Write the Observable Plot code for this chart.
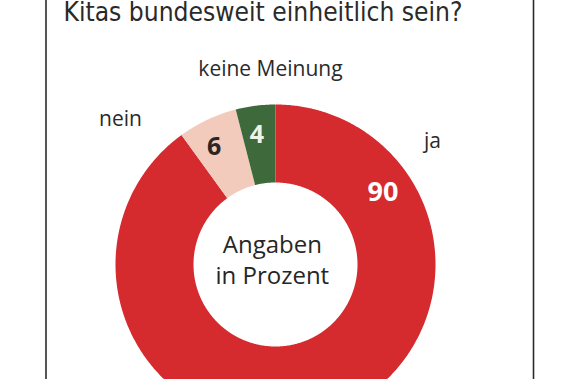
<!DOCTYPE html>
<html>
<head>
<meta charset="utf-8">
<script src="https://cdn.jsdelivr.net/npm/d3@7"></script>
<script src="https://cdn.jsdelivr.net/npm/@observablehq/plot@0.6"></script>
<style>
  html, body { margin: 0; padding: 0; background: #fff; }
  svg { display: block; }
</style>
</head>
<body>
<div id="chart"></div>
<script>
// Data
const categories = ["ja", "nein", "keine Meinung"];
const values = [90, 6, 4];
const colors = ["#d52a2e", "#f2cbbc", "#3e6a3b"];
const valueLabelColors = ["#ffffff", "#2b2523", "#eef3ea"];
const titleText = "Kitas bundesweit einheitlich sein?";
const centerLines = ["Angaben", "in Prozent"];

// Layout (not data)
const innerRatio = 82 / 160;
const font = "'Open Sans', 'DejaVu Sans', sans-serif";
const condFont = "'DejaVu Sans Condensed', 'Liberation Sans Narrow', sans-serif";

// Build slice polygons from values (angle clockwise from 12 o'clock)
const total = d3.sum(values);
let acc = 0;
const slices = values.map((v, i) => {
  const a0 = acc / total * 2 * Math.PI;
  acc += v;
  const a1 = acc / total * 2 * Math.PI;
  return {i, cat: categories[i], value: v, a0, a1};
});
const polyPts = [];
for (const s of slices) {
  const n = Math.max(2, Math.ceil((s.a1 - s.a0) / (Math.PI / 360)));
  for (let k = 0; k <= n; k++) {
    const a = s.a0 + (s.a1 - s.a0) * k / n;
    polyPts.push({cat: s.cat, x: Math.sin(a), y: Math.cos(a)});
  }
  for (let k = n; k >= 0; k--) {
    const a = s.a0 + (s.a1 - s.a0) * k / n;
    polyPts.push({cat: s.cat, x: innerRatio * Math.sin(a), y: innerRatio * Math.cos(a)});
  }
}

// value label placement (degrees clockwise from top, radius fraction), font sizes
const valueLabelPos = [
  {angle: 56, r: 0.81, size: 27},
  {angle: -27.7, r: 0.826, size: 25},
  {angle: -8.1, r: 0.82, size: 25}
];
const valueLabels = slices.map((s, i) => {
  const a = valueLabelPos[i].angle * Math.PI / 180;
  const r = valueLabelPos[i].r;
  return {text: String(s.value), x: r * Math.sin(a), y: r * Math.cos(a), color: valueLabelColors[i], size: valueLabelPos[i].size};
});

// category label positions (data space)
const catLabelPos = [
  {x: (432 - 275) / 160, y: (264 - 147) / 160},
  {x: (120 - 275) / 160, y: (264 - 125) / 160},
  {x: (270 - 275) / 160, y: (264 - 75) / 160}
];
const catLabels = categories.map((c, i) => ({text: c, ...catLabelPos[i]}));

const framePos = [(45.5 - 275) / 160, (533 - 275) / 160];

const chart = Plot.plot({
  width: 576,
  height: 379,
  margin: 0,
  x: {domain: [-1, 1], range: [115, 435], axis: null},
  y: {domain: [-1, 1], range: [424, 104], axis: null},
  color: {domain: categories, range: colors},
  style: {background: "#fff", fontFamily: font},
  marks: [
    Plot.ruleX(framePos, {stroke: "#2b2b2b", strokeWidth: 1.6}),
    Plot.line(polyPts, {x: "x", y: "y", z: "cat", fill: "cat", stroke: "none", curve: "linear-closed"}),
    Plot.text(valueLabels.slice(0, 1), {x: "x", y: "y", text: "text", fill: d => d.color, fontSize: 27, fontWeight: "bold", fontFamily: font}),
    Plot.text(valueLabels.slice(1), {x: "x", y: "y", text: "text", fill: d => d.color, fontSize: 25, fontWeight: "bold", fontFamily: font}),
    Plot.text(catLabels, {x: "x", y: "y", text: "text", fill: "#2a2a2a", fontSize: 21, lineAnchor: "bottom", fontFamily: font}),
    Plot.text([centerLines.join("\n")], {x: [-0.02], y: [0.035], text: d => d, fill: "#262626", fontSize: 24, lineHeight: 1.3, lineAnchor: "middle", fontFamily: font}),
    Plot.text([titleText], {className: "title-mark", frameAnchor: "top-left", dx: 63, dy: 20, textAnchor: "start", lineAnchor: "bottom", fill: "#2a2a2a", fontSize: 27, fontFamily: condFont})
  ]
});
const t = chart.querySelector(".title-mark text");
if (t) { t.setAttribute("textLength", 399); t.setAttribute("lengthAdjust", "spacingAndGlyphs"); }
document.getElementById("chart").appendChild(chart);
</script>
</body>
</html>
